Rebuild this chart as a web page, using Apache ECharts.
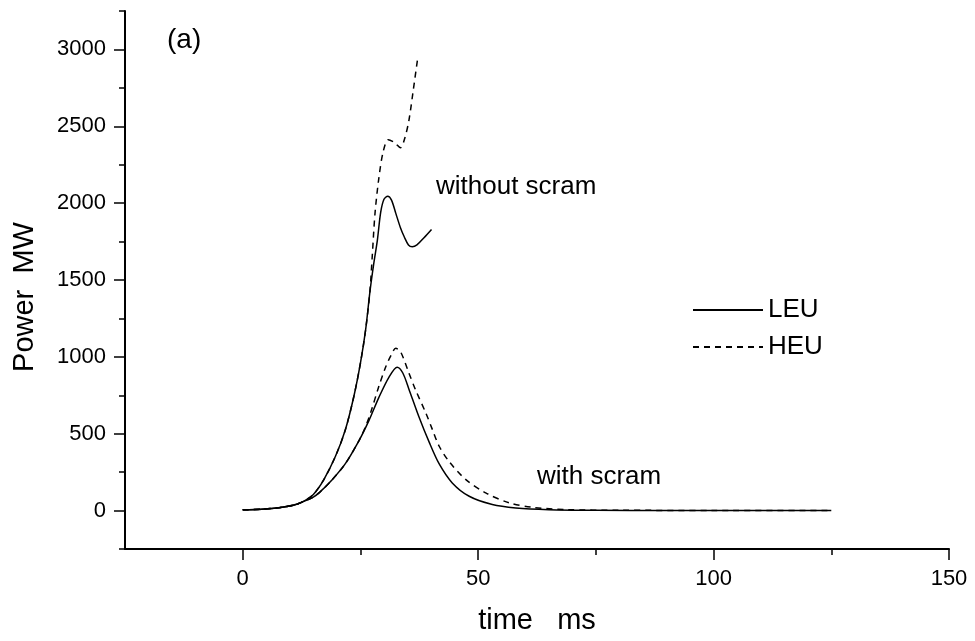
<!DOCTYPE html>
<html>
<head>
<meta charset="utf-8">
<script src="https://cdn.jsdelivr.net/npm/echarts@6/dist/echarts.min.js"></script>
<style>
html,body{margin:0;padding:0;background:#fff;}
#chart{width:975px;height:641px;}
</style>
</head>
<body>
<div id="chart"></div>
<script>
// ---- data (time in ms, power in MW) ----
var leuNoScramT = [0, 4, 8, 11, 13, 15, 17.2, 19.7, 21.8, 23.6, 25.0, 26.1, 27.0, 27.8, 28.6, 29.3, 30.0, 30.8, 31.6, 32.5, 33.5, 34.3, 35.2, 36.0, 37.0, 38.5, 40.1];
var leuNoScramP = [5, 9, 20, 38, 62, 105, 200, 353, 526, 742, 959, 1175, 1420, 1600, 1760, 1940, 2025, 2045, 2020, 1935, 1840, 1781, 1728, 1716, 1728, 1775, 1829];

var heuNoScramT = [0, 4, 8, 11, 13, 15, 17.2, 19.7, 21.8, 23.6, 25.0, 26.1, 27.0, 27.5, 28.1, 28.9, 29.8, 30.9, 32.2, 33.5, 34.4, 35.3, 36.2, 37.1];
var heuNoScramP = [5, 9, 20, 38, 62, 105, 200, 353, 526, 742, 959, 1175, 1420, 1650, 1935, 2160, 2330, 2413, 2395, 2360, 2420, 2539, 2730, 2929];

var leuScramT = [0, 4, 8, 11, 13, 15, 16.2, 19.0, 21.8, 24.7, 26.8, 28.9, 31.1, 32.8, 34.0, 35.3, 37.4, 39.6, 41.7, 44.5, 48.1, 53, 58, 65, 75, 90, 110, 125];
var leuScramP = [5, 9, 20, 36, 60, 88, 115, 201, 305, 455, 585, 735, 870, 933, 895, 790, 612, 445, 305, 180, 93, 39, 17, 6, 2, 1, 1, 1];

var heuScramT = [0, 4, 8, 11, 13, 15, 16.2, 19.0, 21.8, 24.7, 26.0, 27.2, 28.9, 30.4, 31.5, 32.5, 33.5, 35.3, 36.7, 38.9, 40.3, 41.7, 43.8, 47.4, 51.6, 56.6, 61.6, 68.7, 80, 100, 125];
var heuScramP = [5, 9, 20, 36, 60, 88, 115, 201, 305, 455, 540, 640, 807, 937, 1010, 1056, 1035, 894, 786, 634, 526, 420, 320, 201, 115, 50, 21, 6, 2, 1, 1];

var xMajorTicks = [0, 50, 100, 150];
var xMinorTicks = [25, 75, 125];
var yMajorTicks = [0, 500, 1000, 1500, 2000, 2500, 3000];
var yMinorTicks = [-250, 250, 750, 1250, 1750, 2250, 2750, 3250];

function pairs(t, p) {
  var out = [];
  for (var i = 0; i < t.length; i++) out.push([t[i], p[i]]);
  return out;
}

var FONT = '"Liberation Sans", Arial, "DejaVu Sans", sans-serif';
var chart = echarts.init(document.getElementById('chart'), null, {renderer: 'canvas'});

var solid = {color: '#000', width: 1.5, type: 'solid'};
var dashed = {color: '#000', width: 1.5, type: [6, 5]};

function lineSeries(name, t, p, style) {
  return {
    name: name,
    type: 'line',
    data: pairs(t, p),
    showSymbol: false,
    symbol: 'none',
    smooth: 0.3,
    lineStyle: style,
    itemStyle: {color: '#000'},
    animation: false,
    z: 3
  };
}

var option = {
  backgroundColor: '#fff',
  animation: false,
  textStyle: {fontFamily: FONT, color: '#000'},
  grid: {left: 125, right: 26, top: 11, bottom: 92, containLabel: false},
  legend: {
    orient: 'vertical',
    left: 692,
    top: 297,
    padding: 0,
    itemWidth: 70,
    itemHeight: 14,
    itemGap: 11,
    data: ['LEU', 'HEU'],
    itemStyle: {color: 'rgba(0,0,0,0)', borderColor: 'rgba(0,0,0,0)', borderWidth: 0, opacity: 0},
    textStyle: {fontSize: 26, color: '#000', fontFamily: FONT, lineHeight: 26},
    selectedMode: false
  },
  xAxis: [
    {
      type: 'value', min: -25, max: 150,
      position: 'bottom',
      name: 'time   ms',
      nameLocation: 'middle',
      nameGap: 57,
      nameTextStyle: {fontSize: 29, color: '#000', fontFamily: FONT},
      axisLine: {show: true, onZero: false, lineStyle: {color: '#000', width: 2}},
      axisTick: {show: true, inside: false, length: 11, customValues: xMajorTicks, lineStyle: {color: '#000', width: 1.5}},
      axisLabel: {show: true, customValues: xMajorTicks, fontSize: 22, color: '#000', margin: 19, fontFamily: FONT,
                  formatter: function (v) { return String(v); }},
      splitLine: {show: false}
    },
    {
      type: 'value', min: -25, max: 150,
      position: 'bottom',
      axisLine: {show: false, onZero: false},
      axisTick: {show: true, inside: false, length: 6, customValues: xMinorTicks, lineStyle: {color: '#000', width: 1.5}},
      axisLabel: {show: false},
      splitLine: {show: false}
    }
  ],
  yAxis: [
    {
      type: 'value', min: -250, max: 3250,
      position: 'left',
      axisLine: {show: true, onZero: false, lineStyle: {color: '#000', width: 2}},
      axisTick: {show: true, inside: false, length: 11, customValues: yMajorTicks, lineStyle: {color: '#000', width: 1.5}},
      axisLabel: {show: true, customValues: yMajorTicks, fontSize: 22, color: '#000', margin: 19, fontFamily: FONT,
                  formatter: function (v) { return String(v); }},
      splitLine: {show: false}
    },
    {
      type: 'value', min: -250, max: 3250,
      position: 'left',
      axisLine: {show: false, onZero: false},
      axisTick: {show: true, inside: false, length: 6, customValues: yMinorTicks, lineStyle: {color: '#000', width: 1.5}},
      axisLabel: {show: false},
      splitLine: {show: false}
    }
  ],
  graphic: [
    {
      type: 'text', x: 25, y: 297, rotation: Math.PI / 2,
      style: {text: 'Power  MW', font: '29px ' + FONT, fill: '#000', textAlign: 'center', textVerticalAlign: 'middle'}
    },
    {
      type: 'text', x: 167, y: 40,
      style: {text: '(a)', font: '28px ' + FONT, fill: '#000', textAlign: 'left', textVerticalAlign: 'middle'}
    },
    {
      type: 'text', x: 436, y: 187,
      style: {text: 'without scram', font: '26px ' + FONT, fill: '#000', textAlign: 'left', textVerticalAlign: 'middle'}
    },
    {
      type: 'text', x: 537, y: 477,
      style: {text: 'with scram', font: '26px ' + FONT, fill: '#000', textAlign: 'left', textVerticalAlign: 'middle'}
    }
  ],
  series: [
    lineSeries('LEU', leuNoScramT, leuNoScramP, solid),
    lineSeries('HEU', heuNoScramT, heuNoScramP, dashed),
    lineSeries('LEU', leuScramT, leuScramP, solid),
    lineSeries('HEU', heuScramT, heuScramP, dashed)
  ]
};
chart.setOption(option);
</script>
</body>
</html>
